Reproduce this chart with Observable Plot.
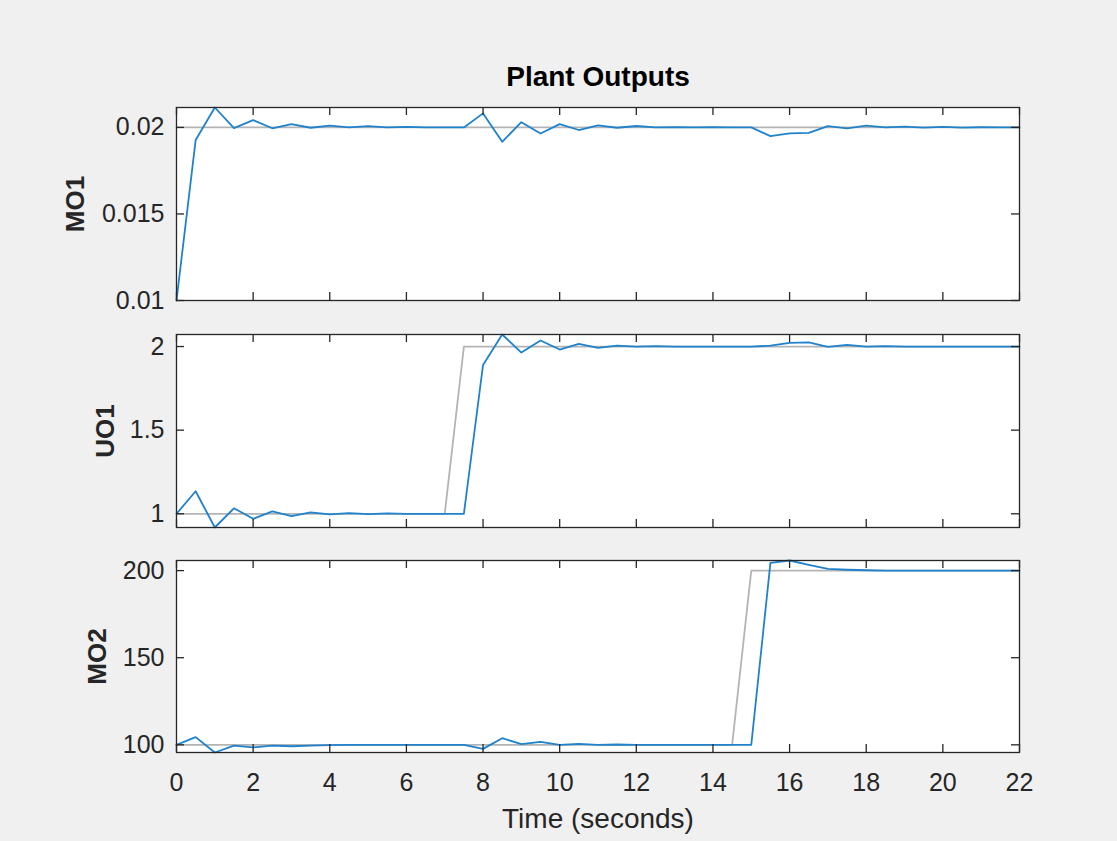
<!DOCTYPE html>
<html>
<head>
<meta charset="utf-8">
<script src="https://cdn.jsdelivr.net/npm/d3@7"></script>
<script src="https://cdn.jsdelivr.net/npm/@observablehq/plot@0.6"></script>
<style>
html, body { margin: 0; padding: 0; background: #f0f0f0; }
#fig { position: relative; width: 1117px; height: 841px; background: #f0f0f0; overflow: hidden; }
#fig svg { position: absolute; left: 0; }
</style>
</head>
<body>
<div id="fig"></div>
<script>
// ---- data ----
const time = [0, 0.5, 1, 1.5, 2, 2.5, 3, 3.5, 4, 4.5, 5, 5.5, 6, 6.5, 7, 7.5, 8, 8.5, 9, 9.5, 10, 10.5,
  11, 11.5, 12, 12.5, 13, 13.5, 14, 14.5, 15, 15.5, 16, 16.5, 17, 17.5, 18, 18.5, 19, 19.5, 20, 20.5, 21, 21.5, 22];

const mo1 = [0.0100, 0.01927, 0.02115, 0.01996, 0.02042, 0.01995, 0.02019, 0.01998, 0.02010, 0.02000,
  0.02007, 0.02000, 0.02003, 0.02000, 0.02000, 0.02000, 0.02081, 0.01917, 0.02030, 0.01965,
  0.02019, 0.01985, 0.02012, 0.01998, 0.02008, 0.02000, 0.02002, 0.02000, 0.02001, 0.02000,
  0.02000, 0.01950, 0.01965, 0.01968, 0.02007, 0.01995, 0.02010, 0.02000, 0.02005, 0.01999,
  0.02003, 0.01999, 0.02001, 0.02000, 0.02000];

const uo1 = [1.0, 1.135, 0.918, 1.033, 0.970, 1.014, 0.986, 1.008, 0.996, 1.004,
  0.998, 1.002, 1.0, 1.0, 1.0, 1.0, 1.89, 2.072, 1.964, 2.036,
  1.982, 2.016, 1.992, 2.006, 2.0, 2.002, 2.0, 2.0, 2.0, 2.0,
  2.0, 2.005, 2.022, 2.025, 1.998, 2.010, 2.0, 2.002, 2.0, 2.0,
  2.0, 2.0, 2.0, 2.0, 2.0];

const mo2 = [100, 104.4, 95.6, 99.6, 98.5, 99.6, 99.2, 99.6, 99.8, 100,
  100, 100, 100, 100, 100, 100, 97.7, 103.8, 100.4, 101.7,
  100, 100.5, 100, 100.2, 100, 100, 100, 100, 100, 100,
  100, 204.4, 205.8, 203.3, 201.0, 200.5, 200.2, 200, 200, 200,
  200, 200, 200, 200, 200];

const refMO1Time = [0, 22];
const refMO1 = [0.02, 0.02];
const refUO1Time = [0, 7, 7.5, 22];
const refUO1 = [1, 1, 2, 2];
const refMO2Time = [0, 14.5, 15, 22];
const refMO2 = [100, 100, 200, 200];

const xTicks = [0, 2, 4, 6, 8, 10, 12, 14, 16, 18, 20, 22];
const xTickLabels = ["0", "2", "4", "6", "8", "10", "12", "14", "16", "18", "20", "22"];
const yTicksMO1 = [0.01, 0.015, 0.02];
const yTickLabelsMO1 = ["0.01", "0.015", "0.02"];
const yTicksUO1 = [1, 1.5, 2];
const yTickLabelsUO1 = ["1", "1.5", "2"];
const yTicksMO2 = [100, 150, 200];
const yTickLabelsMO2 = ["100", "150", "200"];

const panelNames = ["MO1", "UO1", "MO2"];
const titleText = "Plant Outputs";
const xLabelText = "Time (seconds)";

// ---- style ----
const W = 1117, ML = 176, MR = 98;
const FONT = '"Liberation Sans", Arial, Helvetica, sans-serif';
const AX = "#262626";
const TICK_FS = 25, LABEL_FS = 26, XLABEL_FS = 28, TITLE_FS = 28;

function panel(o) {
  const rows = time.map((t, i) => ({t, v: o.values[i]}));
  const refRows = o.refT.map((t, i) => ({t, v: o.refV[i]}));
  const innerH = o.height - o.mt - o.mb;
  const innerW = W - ML - MR;
  const tl = 8;
  const marks = [
    Plot.frame({fill: "white", stroke: null}),
    Plot.line(refRows, {x: "t", y: "v", stroke: "#b4b4b4", strokeWidth: 1.8}),
    Plot.line(rows, {x: "t", y: "v", stroke: "#1f82cc", strokeWidth: 1.8}),
    Plot.tickX(xTicks, {x: d => d, insetBottom: innerH - tl, stroke: AX, strokeWidth: 1.3}),
    Plot.tickX(xTicks, {x: d => d, insetTop: innerH - tl, stroke: AX, strokeWidth: 1.3}),
    Plot.tickY(o.yTicks, {y: d => d, insetRight: innerW - tl, stroke: AX, strokeWidth: 1.3}),
    Plot.tickY(o.yTicks, {y: d => d, insetLeft: innerW - tl, stroke: AX, strokeWidth: 1.3}),
    Plot.axisY({ticks: o.yTicks, tickFormat: d => o.yLabels[o.yTicks.indexOf(d)], tickSize: 0, tickPadding: 12,
      fontSize: TICK_FS, label: null}),
    Plot.text([o.name], {text: d => d, frameAnchor: "left", textAnchor: "middle", lineAnchor: "middle",
      dx: o.labelDx, rotate: -90, fontWeight: "bold", fontSize: LABEL_FS, fill: AX}),
    Plot.frame({stroke: AX, strokeWidth: 1.3})
  ];
  if (o.title) {
    marks.push(Plot.text([o.title], {text: d => d, frameAnchor: "top", lineAnchor: "bottom", dy: -22,
      fontWeight: "bold", fontSize: TITLE_FS, fill: "#000"}));
  }
  if (o.xAxis) {
    marks.push(Plot.axisX({ticks: xTicks, tickFormat: d => xTickLabels[xTicks.indexOf(d)], tickSize: 0,
      tickPadding: 21, fontSize: TICK_FS, label: null}));
    marks.push(Plot.text([xLabelText], {text: d => d, frameAnchor: "bottom", lineAnchor: "bottom", dy: 75,
      fontSize: XLABEL_FS, fill: AX}));
  }
  const svg = Plot.plot({
    width: W, height: o.height,
    marginLeft: ML, marginRight: MR, marginTop: o.mt, marginBottom: o.mb,
    x: {domain: [time[0], time[time.length - 1]], axis: o.xAxis ? undefined : null},
    y: {},
    style: {background: "transparent", color: AX, fontFamily: FONT, overflow: "visible"},
    marks
  });
  svg.style.top = o.top + "px";
  document.getElementById("fig").appendChild(svg);
}

panel({values: mo1, refT: refMO1Time, refV: refMO1, yTicks: yTicksMO1, yLabels: yTickLabelsMO1,
  name: panelNames[0], top: 0, height: 306, mt: 107, mb: 6, labelDx: -101, title: titleText});
panel({values: uo1, refT: refUO1Time, refV: refUO1, yTicks: yTicksUO1, yLabels: yTickLabelsUO1,
  name: panelNames[1], top: 320, height: 213, mt: 14, mb: 6, labelDx: -71});
panel({values: mo2, refT: refMO2Time, refV: refMO2, yTicks: yTicksMO2, yLabels: yTickLabelsMO2,
  name: panelNames[2], top: 540, height: 301, mt: 20, mb: 89, labelDx: -79, xAxis: true});
</script>
</body>
</html>
